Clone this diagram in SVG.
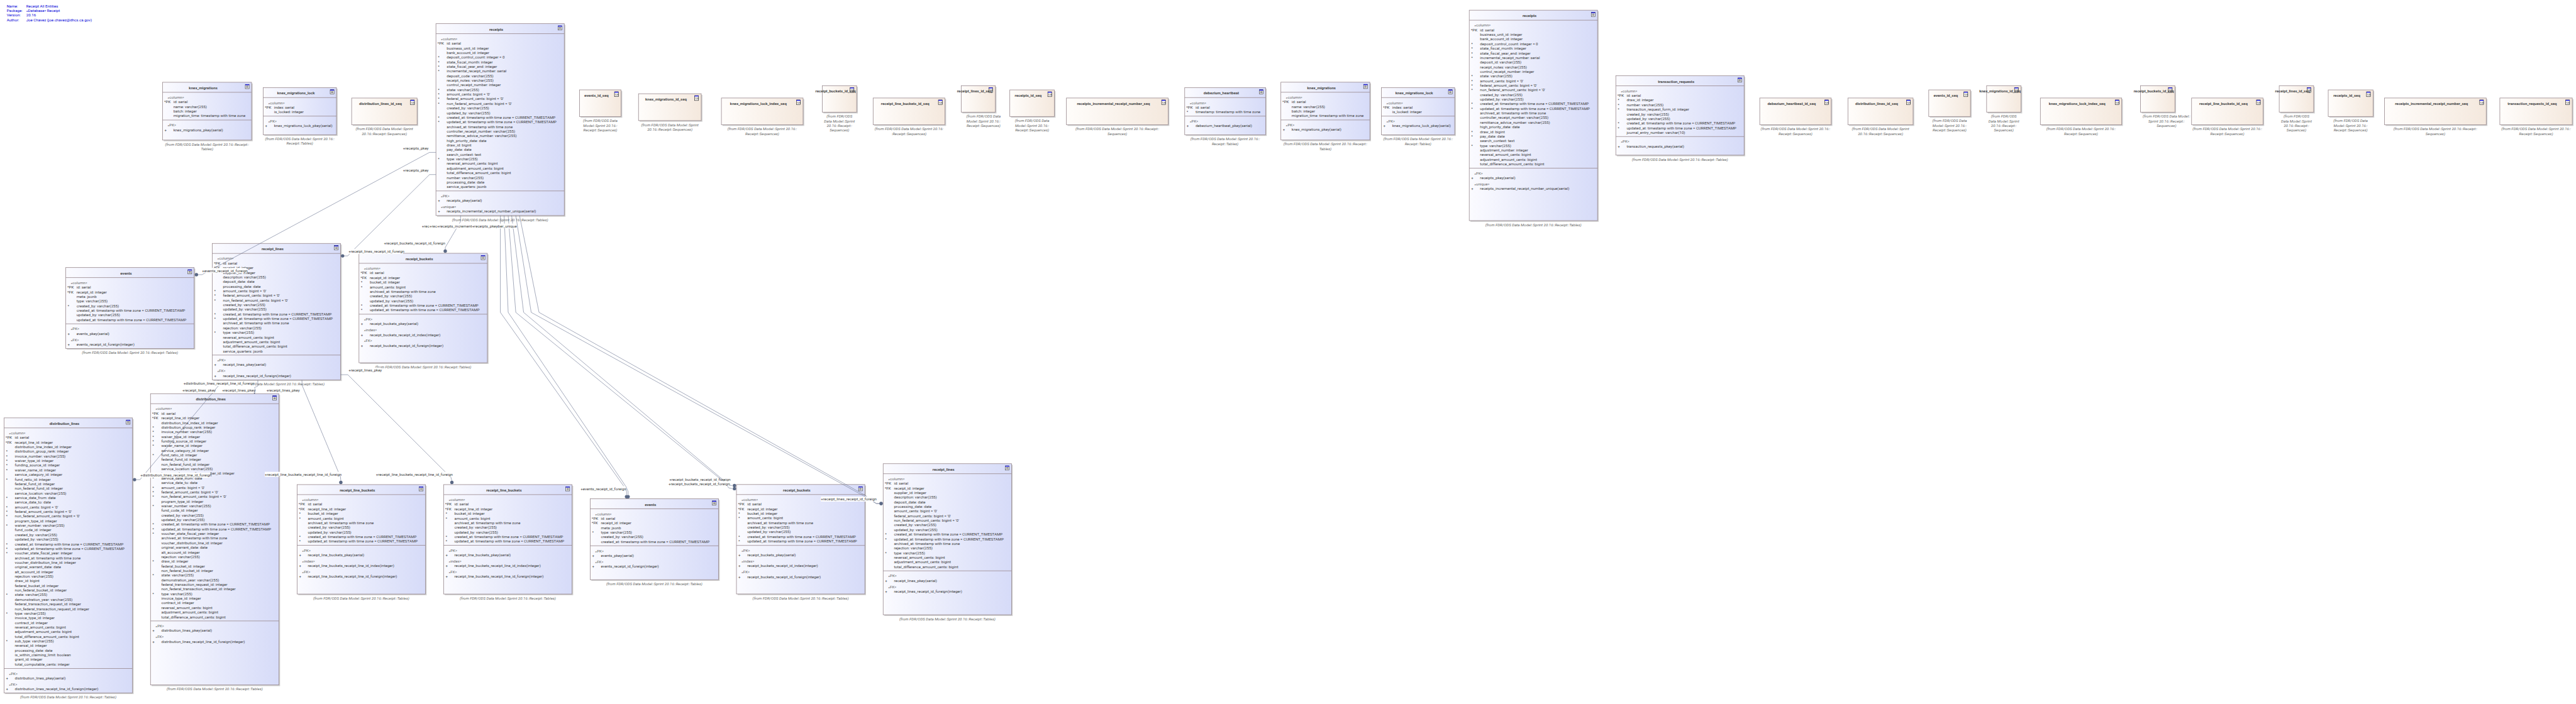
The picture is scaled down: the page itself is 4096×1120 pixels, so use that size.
<svg xmlns="http://www.w3.org/2000/svg" width="4096" height="1120" viewBox="0 0 4096 1120">
<style>
text{font-family:Roboto,"Liberation Sans",sans-serif;font-size:10px;fill:#3c3c3c}
.n{font-weight:700;text-anchor:middle;fill:#454545}
.s{fill:#666}
.c{font-style:italic;text-anchor:middle;fill:#666}
.h{fill:#0000d8}
.sh{fill:#cfcfcf}
.tb{fill:url(#gt);stroke:#97878c;stroke-width:1.3}
.sb{fill:url(#gs);stroke:#97878c;stroke-width:1.3}
.dv{fill:none;stroke:#97878c;stroke-width:1.3}
.ln{fill:none;stroke:#6b7590;stroke-width:1}
.ball{fill:#5a6885}
.lb{fill:#fff}
</style>
<defs>
<linearGradient id="gt"><stop offset="0" stop-color="#fbfbff"/><stop offset="1" stop-color="#d6dbf8"/></linearGradient>
<linearGradient id="gs"><stop offset="0" stop-color="#fffdfb"/><stop offset="1" stop-color="#f4e8dd"/></linearGradient>
<g id="ti"><rect x=".5" y=".5" width="10" height="11" fill="#fff" stroke="#333"/><rect x=".5" y=".5" width="10" height="2" fill="#0000e0"/><path d="M2.5 4.5h6M2.5 6.5h6M2.5 8.5h6" stroke="#333" fill="none"/></g>
<g id="si"><rect x=".5" y=".5" width="10" height="12.5" fill="#fff" stroke="#111"/><rect x=".5" y=".5" width="10" height="2" fill="#0000e0"/><text x="1.2" y="10" style="font-size:6.5px;fill:#111;letter-spacing:-.6px">123</text></g>
</defs>
<g transform="scale(0.61308)">
<rect width="6681" height="1827" fill="#fff"/>
<g id="header" class="h">
<text class="h" x="17.5" y="19.2">Name:</text><text class="h" x="68" y="19.2">Receipt All Entities</text>
<text class="h" x="17.5" y="31.1">Package:</text><text class="h" x="68" y="31.1">«Database» Receipt</text>
<text class="h" x="17.5" y="42.9">Version:</text><text class="h" x="68" y="42.9">20.16</text>
<text class="h" x="17.5" y="55.2">Author:</text><text class="h" x="68" y="55.2">Joe Chavez (joe.chavez@dhcs.ca.gov)</text>
</g>

<g id="knex_migrations_a" transform="translate(421.6,213.5)"><rect class="sh" x="3" y="3" width="230.8" height="150"/><rect class="tb" width="230.8" height="150"/><path class="dv" d="M0 26H230.8M0 98H230.8"/><use href="#ti" x="214.1" y="5"/><text class="n" x="105.4" y="18">knex_migrations</text>
<text class="s" x="13" y="42.7">«column»</text><g transform="translate(4,42.7)"><text y="12">*PK</text></g><g transform="translate(28,42.7)"><text y="12">id: serial</text><text y="24">name: varchar(255)</text><text y="36">batch: integer</text><text y="48">migration_time: timestamp with time zone</text></g>
<text class="s" x="13" y="114.7">«PK»</text><text x="5" y="126.7">+</text><text x="28" y="126.7">knex_migrations_pkey(serial)</text>
<text class="c" x="115.4" y="164.3">(from FDR/ODS Data Model::Sprint 20.16::Receipt::</text><text class="c" x="115.4" y="176.3">Tables)</text></g>

<g id="knex_migrations_lock_a" transform="translate(682.6,227.3)"><rect class="sh" x="3" y="3" width="190" height="122.3"/><rect class="tb" width="190" height="122.3"/><path class="dv" d="M0 26H190M0 74H190"/><use href="#ti" x="173.3" y="5"/><text class="n" x="85" y="18">knex_migrations_lock</text>
<text class="s" x="13" y="42.7">«column»</text><g transform="translate(4,42.7)"><text y="12">*PK</text></g><g transform="translate(28,42.7)"><text y="12">index: serial</text><text y="24">is_locked: integer</text></g>
<text class="s" x="13" y="90.7">«PK»</text><text x="5" y="102.7">+</text><text x="28" y="102.7">knex_migrations_lock_pkey(serial)</text>
<text class="c" x="95" y="136.6">(from FDR/ODS Data Model::Sprint 20.16::</text><text class="c" x="95" y="148.6">Receipt::Tables)</text></g>

<g id="distribution_lines_id_seq_a" transform="translate(912,254.4)"><rect class="sh" x="3" y="3" width="169.7" height="69.3"/><rect class="sb" width="169.7" height="69.3"/><use href="#si" x="152.2" y="4.5"/><text class="n" x="74.8" y="18">distribution_lines_id_seq</text>
<text class="c" x="84.8" y="83.6">(from FDR/ODS Data Model::Sprint</text><text class="c" x="84.8" y="95.6">20.16::Receipt::Sequences)</text></g>

<g id="receipts_a" transform="translate(1130.6,61.4)"><rect class="sh" x="3" y="3" width="332.9" height="497.9"/><rect class="tb" width="332.9" height="497.9"/><path class="dv" d="M0 26H332.9M0 434H332.9"/><use href="#ti" x="316.2" y="5"/><text class="n" x="156.4" y="18">receipts</text>
<text class="s" x="13" y="42.7">«column»</text>
<g transform="translate(5,42.7)"><text x="-1" y="12">*PK</text><text y="48">*</text><text y="60">*</text><text y="72">*</text><text y="84">*</text><text y="132">*</text><text y="144">*</text><text y="156">*</text><text y="168">*</text><text y="204">*</text><text y="216">*</text><text y="312">*</text></g>
<g transform="translate(28,42.7)"><text y="12">id: serial</text><text y="24">business_unit_id: integer</text><text y="36">bank_account_id: integer</text><text y="48">deposit_control_count: integer = 0</text><text y="60">state_fiscal_month: integer</text><text y="72">state_fiscal_year_end: integer</text><text y="84">incremental_receipt_number: serial</text><text y="96">deposit_code: varchar(255)</text><text y="108">receipt_notes: varchar(255)</text><text y="120">control_receipt_number: integer</text><text y="132">state: varchar(255)</text><text y="144">amount_cents: bigint = '0'</text><text y="156">federal_amount_cents: bigint = '0'</text><text y="168">non_federal_amount_cents: bigint = '0'</text><text y="180">created_by: varchar(255)</text><text y="192">updated_by: varchar(255)</text><text y="204">created_at: timestamp with time zone = CURRENT_TIMESTAMP</text><text y="216">updated_at: timestamp with time zone = CURRENT_TIMESTAMP</text><text y="228">archived_at: timestamp with time zone</text><text y="240">controller_receipt_number: varchar(255)</text><text y="252">remittance_advice_number: varchar(255)</text><text y="264">high_priority_date: date</text><text y="276">draw_id: bigint</text><text y="288">pay_date: date</text><text y="300">search_context: text</text><text y="312">type: varchar(255)</text><text y="324">reversal_amount_cents: bigint</text><text y="336">adjustment_amount_cents: bigint</text><text y="348">total_difference_amount_cents: bigint</text><text y="360">number: varchar(255)</text><text y="372">processing_date: date</text><text y="384">service_quarters: jsonb</text></g>
<text class="s" x="13" y="450.7">«PK»</text><text x="5" y="462.7">+</text><text x="28" y="462.7">receipts_pkey(serial)</text>
<text class="s" x="13" y="478.7">«unique»</text><text x="5" y="490.7">+</text><text x="28" y="490.7">receipts_incremental_receipt_number_unique(serial)</text>
<text class="c" x="166.4" y="512.2">(from FDR/ODS Data Model::Sprint 20.16::Receipt::Tables)</text></g>

<g id="events_id_seq_a" transform="translate(1503,233.2)"><rect class="sh" x="3" y="3" width="107.8" height="69.3"/><rect class="sb" width="107.8" height="69.3"/><use href="#si" x="90.3" y="4.5"/><text class="n" x="43.9" y="18">events_id_seq</text>
<text class="c" x="53.9" y="83.6">(from FDR/ODS Data</text><text class="c" x="53.9" y="95.6">Model::Sprint 20.16::</text><text class="c" x="53.9" y="107.6">Receipt::Sequences)</text></g>

<g id="knex_migrations_id_seq_a" transform="translate(1656,243.2)"><rect class="sh" x="3" y="3" width="162.7" height="69.7"/><rect class="sb" width="162.7" height="69.7"/><use href="#si" x="145.2" y="4.5"/><text class="n" x="71.3" y="18">knex_migrations_id_seq</text>
<text class="c" x="81.3" y="84">(from FDR/ODS Data Model::Sprint</text><text class="c" x="81.3" y="96">20.16::Receipt::Sequences)</text></g>

<g id="knex_migrations_lock_index_seq_a" transform="translate(1871,254.3)"><rect class="sh" x="3" y="3" width="211.8" height="69.4"/><rect class="sb" width="211.8" height="69.4"/><use href="#si" x="194.3" y="4.5"/><text class="n" x="95.9" y="18">knex_migrations_lock_index_seq</text>
<text class="c" x="105.9" y="83.7">(from FDR/ODS Data Model::Sprint 20.16::</text><text class="c" x="105.9" y="95.7">Receipt::Sequences)</text></g>

<g id="receipt_buckets_id_seq_a" transform="translate(2132.5,222.3)"><rect class="sh" x="3" y="3" width="89.3" height="69"/><rect class="sb" width="89.3" height="69"/><use href="#si" x="71.8" y="4.5"/><text class="n" x="34.6" y="18">receipt_buckets_id_seq</text>
<text class="c" x="44.6" y="83.4">(from FDR/ODS</text><text class="c" x="44.6" y="95.4">Data Model::Sprint</text><text class="c" x="44.6" y="107.4">20.16::Receipt::</text><text class="c" x="44.6" y="119.4">Sequences)</text></g>

<g id="receipt_line_buckets_id_seq_a" transform="translate(2264.5,254.3)"><rect class="sh" x="3" y="3" width="186.3" height="69.4"/><rect class="sb" width="186.3" height="69.4"/><use href="#si" x="168.8" y="4.5"/><text class="n" x="83.1" y="18">receipt_line_buckets_id_seq</text>
<text class="c" x="93.1" y="83.7">(from FDR/ODS Data Model::Sprint 20.16:</text><text class="c" x="93.1" y="95.7">:Receipt::Sequences)</text></g>

<g id="receipt_lines_id_seq_a" transform="translate(2492.9,222.3)"><rect class="sh" x="3" y="3" width="88.6" height="69"/><rect class="sb" width="88.6" height="69"/><use href="#si" x="71.1" y="4.5"/><text class="n" x="34.3" y="18">receipt_lines_id_seq</text>
<text class="c" x="58" y="83.4">(from FDR/ODS Data</text><text class="c" x="58" y="95.4">Model::Sprint 20.16::</text><text class="c" x="58" y="107.4">Receipt::Sequences)</text></g>

<g id="receipts_id_seq_a" transform="translate(2619,233.3)"><rect class="sh" x="3" y="3" width="115.6" height="69"/><rect class="sb" width="115.6" height="69"/><use href="#si" x="98.1" y="4.5"/><text class="n" x="47.8" y="18">receipts_id_seq</text>
<text class="c" x="57.8" y="83.4">(from FDR/ODS Data</text><text class="c" x="57.8" y="95.4">Model::Sprint 20.16::</text><text class="c" x="57.8" y="107.4">Receipt::Sequences)</text></g>

<g id="receipts_incremental_receipt_number_seq_a" transform="translate(2765.8,254.3)"><rect class="sh" x="3" y="3" width="264" height="69.4"/><rect class="sb" width="264" height="69.4"/><use href="#si" x="246.5" y="4.5"/><text class="n" x="122" y="18">receipts_incremental_receipt_number_seq</text>
<text class="c" x="132" y="83.7">(from FDR/ODS Data Model::Sprint 20.16::Receipt::</text><text class="c" x="132" y="95.7">Sequences)</text></g>

<g id="debezium_heartbeat" transform="translate(3072.6,227.3)"><rect class="sh" x="3" y="3" width="209.8" height="122.4"/><rect class="tb" width="209.8" height="122.4"/><path class="dv" d="M0 26H209.8M0 74H209.8"/><use href="#ti" x="193.1" y="5"/><text class="n" x="94.9" y="18">debezium_heartbeat</text>
<text class="s" x="13" y="42.7">«column»</text><g transform="translate(4,42.7)"><text y="12">*PK</text><text x="1" y="24">*</text></g><g transform="translate(28,42.7)"><text y="12">id: serial</text><text y="24">timestamp: timestamp with time zone</text></g>
<text class="s" x="13" y="90.7">«PK»</text><text x="5" y="102.7">+</text><text x="28" y="102.7">debezium_heartbeat_pkey(serial)</text>
<text class="c" x="104.9" y="136.7">(from FDR/ODS Data Model::Sprint 20.16::</text><text class="c" x="104.9" y="148.7">Receipt::Tables)</text></g>

<g id="knex_migrations_b" transform="translate(3322,213.3)"><rect class="sh" x="3" y="3" width="230.8" height="150"/><rect class="tb" width="230.8" height="150"/><path class="dv" d="M0 26H230.8M0 98H230.8"/><use href="#ti" x="214.1" y="5"/><text class="n" x="105.4" y="18">knex_migrations</text>
<text class="s" x="13" y="42.7">«column»</text><g transform="translate(4,42.7)"><text y="12">*PK</text></g><g transform="translate(28,42.7)"><text y="12">id: serial</text><text y="24">name: varchar(255)</text><text y="36">batch: integer</text><text y="48">migration_time: timestamp with time zone</text></g>
<text class="s" x="13" y="114.7">«PK»</text><text x="5" y="126.7">+</text><text x="28" y="126.7">knex_migrations_pkey(serial)</text>
<text class="c" x="115.4" y="164.3">(from FDR/ODS Data Model::Sprint 20.16::Receipt::</text><text class="c" x="115.4" y="176.3">Tables)</text></g>

<g id="knex_migrations_lock_b" transform="translate(3582.8,227.3)"><rect class="sh" x="3" y="3" width="190" height="122.4"/><rect class="tb" width="190" height="122.4"/><path class="dv" d="M0 26H190M0 74H190"/><use href="#ti" x="173.3" y="5"/><text class="n" x="85" y="18">knex_migrations_lock</text>
<text class="s" x="13" y="42.7">«column»</text><g transform="translate(4,42.7)"><text y="12">*PK</text></g><g transform="translate(28,42.7)"><text y="12">index: serial</text><text y="24">is_locked: integer</text></g>
<text class="s" x="13" y="90.7">«PK»</text><text x="5" y="102.7">+</text><text x="28" y="102.7">knex_migrations_lock_pkey(serial)</text>
<text class="c" x="95" y="136.7">(from FDR/ODS Data Model::Sprint 20.16::</text><text class="c" x="95" y="148.7">Receipt::Tables)</text></g>

<g id="receipts_b" transform="translate(3810.6,26.4)"><rect class="sh" x="3" y="3" width="332.7" height="546.1"/><rect class="tb" width="332.7" height="546.1"/><path class="dv" d="M0 26H332.7M0 410H332.7"/><use href="#ti" x="316" y="5"/><text class="n" x="156.4" y="18">receipts</text>
<text class="s" x="13" y="42.7">«column»</text>
<g transform="translate(5,42.7)"><text x="-1" y="12">*PK</text><text y="48">*</text><text y="60">*</text><text y="72">*</text><text y="84">*</text><text y="132">*</text><text y="144">*</text><text y="156">*</text><text y="168">*</text><text y="204">*</text><text y="216">*</text><text y="276">*</text><text y="288">*</text><text y="312">*</text></g>
<g transform="translate(28,42.7)"><text y="12">id: serial</text><text y="24">business_unit_id: integer</text><text y="36">bank_account_id: integer</text><text y="48">deposit_control_count: integer = 0</text><text y="60">state_fiscal_month: integer</text><text y="72">state_fiscal_year_end: integer</text><text y="84">incremental_receipt_number: serial</text><text y="96">deposit_id: varchar(255)</text><text y="108">receipt_notes: varchar(255)</text><text y="120">control_receipt_number: integer</text><text y="132">state: varchar(255)</text><text y="144">amount_cents: bigint = '0'</text><text y="156">federal_amount_cents: bigint = '0'</text><text y="168">non_federal_amount_cents: bigint = '0'</text><text y="180">created_by: varchar(255)</text><text y="192">updated_by: varchar(255)</text><text y="204">created_at: timestamp with time zone = CURRENT_TIMESTAMP</text><text y="216">updated_at: timestamp with time zone = CURRENT_TIMESTAMP</text><text y="228">archived_at: timestamp with time zone</text><text y="240">controller_receipt_number: varchar(255)</text><text y="252">remittance_advice_number: varchar(255)</text><text y="264">high_priority_date: date</text><text y="276">draw_id: bigint</text><text y="288">pay_date: date</text><text y="300">search_context: text</text><text y="312">type: varchar(255)</text><text y="324">adjustment_number: integer</text><text y="336">reversal_amount_cents: bigint</text><text y="348">adjustment_amount_cents: bigint</text><text y="360">total_difference_amount_cents: bigint</text></g>
<text class="s" x="13" y="426.7">«PK»</text><text x="5" y="438.7">+</text><text x="28" y="438.7">receipts_pkey(serial)</text>
<text class="s" x="13" y="454.7">«unique»</text><text x="5" y="466.7">+</text><text x="28" y="466.7">receipts_incremental_receipt_number_unique(serial)</text>
<text class="c" x="166.4" y="560.5">(from FDR/ODS Data Model::Sprint 20.16::Receipt::Tables)</text></g>

<g id="transaction_requests" transform="translate(4190.7,196.7)"><rect class="sh" x="3" y="3" width="332.7" height="205.9"/><rect class="tb" width="332.7" height="205.9"/><path class="dv" d="M0 26H332.7M0 157.7H332.7"/><use href="#ti" x="316" y="5"/><text class="n" x="156.4" y="18">transaction_requests</text>
<text class="s" x="13" y="42.7">«column»</text>
<g transform="translate(5,42.7)"><text x="-1" y="12">*PK</text><text y="24">*</text><text y="36">*</text><text y="48">*</text><text y="84">*</text><text y="96">*</text></g>
<g transform="translate(28,42.7)"><text y="12">id: serial</text><text y="24">draw_id: integer</text><text y="36">number: varchar(255)</text><text y="48">transaction_request_form_id: integer</text><text y="60">created_by: varchar(255)</text><text y="72">updated_by: varchar(255)</text><text y="84">created_at: timestamp with time zone = CURRENT_TIMESTAMP</text><text y="96">updated_at: timestamp with time zone = CURRENT_TIMESTAMP</text><text y="108">journal_entry_number: varchar(10)</text></g>
<text class="s" x="13" y="174.4">«PK»</text><text x="5" y="186.4">+</text><text x="28" y="186.4">transaction_requests_pkey(serial)</text>
<text class="c" x="166.4" y="220.2">(from FDR/ODS Data Model::Sprint 20.16::Receipt::Tables)</text></g>

<g id="debezium_heartbeat_id_seq" transform="translate(4564,254.3)"><rect class="sh" x="3" y="3" width="185.4" height="69.4"/><rect class="sb" width="185.4" height="69.4"/><use href="#si" x="167.9" y="4.5"/><text class="n" x="82.7" y="18">debezium_heartbeat_id_seq</text>
<text class="c" x="92.7" y="83.7">(from FDR/ODS Data Model::Sprint 20.16::</text><text class="c" x="92.7" y="95.7">Receipt::Sequences)</text></g>

<g id="distribution_lines_id_seq_b" transform="translate(4792.7,254.3)"><rect class="sh" x="3" y="3" width="169" height="69.4"/><rect class="sb" width="169" height="69.4"/><use href="#si" x="151.5" y="4.5"/><text class="n" x="74.5" y="18">distribution_lines_id_seq</text>
<text class="c" x="84.5" y="83.7">(from FDR/ODS Data Model::Sprint</text><text class="c" x="84.5" y="95.7">20.16::Receipt::Sequences)</text></g>

<g id="events_id_seq_b" transform="translate(5002.3,233.3)"><rect class="sh" x="3" y="3" width="108.2" height="69"/><rect class="sb" width="108.2" height="69"/><use href="#si" x="90.7" y="4.5"/><text class="n" x="44.1" y="18">events_id_seq</text>
<text class="c" x="54.1" y="83.4">(from FDR/ODS Data</text><text class="c" x="54.1" y="95.4">Model::Sprint 20.16::</text><text class="c" x="54.1" y="107.4">Receipt::Sequences)</text></g>

<g id="knex_migrations_id_seq_b" transform="translate(5152.4,222.3)"><rect class="sh" x="3" y="3" width="89.3" height="69"/><rect class="sb" width="89.3" height="69"/><use href="#si" x="71.8" y="4.5"/><text class="n" x="34.6" y="18">knex_migrations_id_seq</text>
<text class="c" x="44.6" y="83.4">(from FDR/ODS</text><text class="c" x="44.6" y="95.4">Data Model::Sprint</text><text class="c" x="44.6" y="107.4">20.16::Receipt::</text><text class="c" x="44.6" y="119.4">Sequences)</text></g>

<g id="knex_migrations_lock_index_seq_b" transform="translate(5291.8,254.3)"><rect class="sh" x="3" y="3" width="211" height="69.4"/><rect class="sb" width="211" height="69.4"/><use href="#si" x="193.5" y="4.5"/><text class="n" x="95.5" y="18">knex_migrations_lock_index_seq</text>
<text class="c" x="105.5" y="83.7">(from FDR/ODS Data Model::Sprint 20.16::</text><text class="c" x="105.5" y="95.7">Receipt::Sequences)</text></g>

<g id="receipt_buckets_id_seq_b" transform="translate(5551.5,222.3)"><rect class="sh" x="3" y="3" width="89.2" height="69"/><rect class="sb" width="89.2" height="69"/><use href="#si" x="71.7" y="4.5"/><text class="n" x="34.6" y="18">receipt_buckets_id_seq</text>
<text class="c" x="67.5" y="83.4">(from FDR/ODS Data Model::</text><text class="c" x="67.5" y="95.4">Sprint 20.16::Receipt::</text><text class="c" x="67.5" y="107.4">Sequences)</text></g>

<g id="receipt_line_buckets_id_seq_b" transform="translate(5684,254.3)"><rect class="sh" x="3" y="3" width="185.3" height="69.4"/><rect class="sb" width="185.3" height="69.4"/><use href="#si" x="167.8" y="4.5"/><text class="n" x="82.7" y="18">receipt_line_buckets_id_seq</text>
<text class="c" x="92.7" y="83.7">(from FDR/ODS Data Model::Sprint 20.16::</text><text class="c" x="92.7" y="95.7">Receipt::Sequences)</text></g>

<g id="receipt_lines_id_seq_b" transform="translate(5911.3,222.3)"><rect class="sh" x="3" y="3" width="89.3" height="69"/><rect class="sb" width="89.3" height="69"/><use href="#si" x="71.8" y="4.5"/><text class="n" x="34.6" y="18">receipt_lines_id_seq</text>
<text class="c" x="44.6" y="83.4">(from FDR/ODS</text><text class="c" x="44.6" y="95.4">Data Model::Sprint</text><text class="c" x="44.6" y="107.4">20.16::Receipt::</text><text class="c" x="44.6" y="119.4">Sequences)</text></g>

<g id="receipts_id_seq_b" transform="translate(6038.4,233.3)"><rect class="sh" x="3" y="3" width="116.3" height="69"/><rect class="sb" width="116.3" height="69"/><use href="#si" x="98.8" y="4.5"/><text class="n" x="48.1" y="18">receipts_id_seq</text>
<text class="c" x="58.1" y="83.4">(from FDR/ODS Data</text><text class="c" x="58.1" y="95.4">Model::Sprint 20.16::</text><text class="c" x="58.1" y="107.4">Receipt::Sequences)</text></g>

<g id="receipts_incremental_receipt_number_seq_b" transform="translate(6184.5,254.3)"><rect class="sh" x="3" y="3" width="263.7" height="69.4"/><rect class="sb" width="263.7" height="69.4"/><use href="#si" x="246.2" y="4.5"/><text class="n" x="121.8" y="18">receipts_incremental_receipt_number_seq</text>
<text class="c" x="131.8" y="83.7">(from FDR/ODS Data Model::Sprint 20.16::Receipt::</text><text class="c" x="131.8" y="95.7">Sequences)</text></g>

<g id="transaction_requests_id_seq" transform="translate(6483.5,254.3)"><rect class="sh" x="3" y="3" width="187.9" height="69.4"/><rect class="sb" width="187.9" height="69.4"/><use href="#si" x="170.4" y="4.5"/><text class="n" x="84" y="18">transaction_requests_id_seq</text>
<text class="c" x="94" y="83.7">(from FDR/ODS Data Model::Sprint 20.16::</text><text class="c" x="94" y="95.7">Receipt::Sequences)</text></g>

<g id="events_a" transform="translate(170.5,694.3)"><rect class="sh" x="3" y="3" width="333" height="210"/><rect class="tb" width="333" height="210"/><path class="dv" d="M0 26H333M0 146H333"/><use href="#ti" x="316.3" y="5"/><text class="n" x="156.5" y="18">events</text>
<text class="s" x="13" y="42.7">«column»</text>
<g transform="translate(4,42.7)"><text y="12">*PK</text><text y="24">*FK</text><text x="1" y="60">*</text></g>
<g transform="translate(28,42.7)"><text y="12">id: serial</text><text y="24">receipt_id: integer</text><text y="36">meta: jsonb</text><text y="48">type: varchar(255)</text><text y="60">created_by: varchar(255)</text><text y="72">created_at: timestamp with time zone = CURRENT_TIMESTAMP</text><text y="84">updated_by: varchar(255)</text><text y="96">updated_at: timestamp with time zone = CURRENT_TIMESTAMP</text></g>
<text class="s" x="13" y="162.7">«PK»</text><text x="5" y="174.7">+</text><text x="28" y="174.7">events_pkey(serial)</text>
<text class="s" x="13" y="190.7">«FK»</text><text x="5" y="202.7">+</text><text x="28" y="202.7">events_receipt_id_foreign(integer)</text>
<text class="c" x="166.5" y="224.7">(from FDR/ODS Data Model::Sprint 20.16::Receipt::Tables)</text></g>

<g id="receipt_lines_a" transform="translate(550.4,631.7)"><rect class="sh" x="3" y="3" width="333" height="354"/><rect class="tb" width="333" height="354"/><path class="dv" d="M0 26H333M0 289.6H333"/><use href="#ti" x="316.3" y="5"/><text class="n" x="156.5" y="18">receipt_lines</text>
<text class="s" x="13" y="42.7">«column»</text>
<g transform="translate(4,42.7)"><text y="12">*PK</text><text y="24">*FK</text><text x="1" y="84">*</text><text x="1" y="96">*</text><text x="1" y="108">*</text><text x="1" y="144">*</text><text x="1" y="156">*</text><text x="1" y="192">*</text></g>
<g transform="translate(28,42.7)"><text y="12">id: serial</text><text y="24">receipt_id: integer</text><text y="36">supplier_id: integer</text><text y="48">description: varchar(255)</text><text y="60">deposit_date: date</text><text y="72">processing_date: date</text><text y="84">amount_cents: bigint = '0'</text><text y="96">federal_amount_cents: bigint = '0'</text><text y="108">non_federal_amount_cents: bigint = '0'</text><text y="120">created_by: varchar(255)</text><text y="132">updated_by: varchar(255)</text><text y="144">created_at: timestamp with time zone = CURRENT_TIMESTAMP</text><text y="156">updated_at: timestamp with time zone = CURRENT_TIMESTAMP</text><text y="168">archived_at: timestamp with time zone</text><text y="180">rejection: varchar(255)</text><text y="192">type: varchar(255)</text><text y="204">reversal_amount_cents: bigint</text><text y="216">adjustment_amount_cents: bigint</text><text y="228">total_difference_amount_cents: bigint</text><text y="240">service_quarters: jsonb</text></g>
<text class="s" x="13" y="306.3">«PK»</text><text x="5" y="318.3">+</text><text x="28" y="318.3">receipt_lines_pkey(serial)</text>
<text class="s" x="13" y="334.3">«FK»</text><text x="5" y="346.3">+</text><text x="28" y="346.3">receipt_lines_receipt_id_foreign(integer)</text>
<text class="c" x="166.5" y="368.3">(from FDR/ODS Data Model::Sprint 20.16::Receipt::Tables)</text></g>

<g id="receipt_buckets_a" transform="translate(931,657.3)"><rect class="sh" x="3" y="3" width="333" height="284"/><rect class="tb" width="333" height="284"/><path class="dv" d="M0 26H333M0 158H333"/><use href="#ti" x="316.3" y="5"/><text class="n" x="156.5" y="18">receipt_buckets</text>
<text class="s" x="13" y="42.7">«column»</text>
<g transform="translate(4,42.7)"><text y="12">*PK</text><text y="24">*FK</text><text x="1" y="36">*</text><text x="1" y="48">*</text><text x="1" y="96">*</text><text x="1" y="108">*</text></g>
<g transform="translate(28,42.7)"><text y="12">id: serial</text><text y="24">receipt_id: integer</text><text y="36">bucket_id: integer</text><text y="48">amount_cents: bigint</text><text y="60">archived_at: timestamp with time zone</text><text y="72">created_by: varchar(255)</text><text y="84">updated_by: varchar(255)</text><text y="96">created_at: timestamp with time zone = CURRENT_TIMESTAMP</text><text y="108">updated_at: timestamp with time zone = CURRENT_TIMESTAMP</text></g>
<text class="s" x="13" y="174.7">«PK»</text><text x="5" y="186.7">+</text><text x="28" y="186.7">receipt_buckets_pkey(serial)</text>
<text class="s" x="13" y="202.7">«index»</text><text x="5" y="214.7">+</text><text x="28" y="214.7">receipt_buckets_receipt_id_index(integer)</text>
<text class="s" x="13" y="230.7">«FK»</text><text x="5" y="242.7">+</text><text x="28" y="242.7">receipt_buckets_receipt_id_foreign(integer)</text>
<text class="c" x="166.5" y="298.3">(from FDR/ODS Data Model::Sprint 20.16::Receipt::Tables)</text></g>

<g id="distribution_lines_a" transform="translate(10.4,1084.4)"><rect class="sh" x="3" y="3" width="333.2" height="713.6"/><rect class="tb" width="333.2" height="713.6"/><path class="dv" d="M0 26H333.2M0 650.3H333.2"/><use href="#ti" x="316.5" y="5"/><text class="n" x="156.6" y="18">distribution_lines</text>
<text class="s" x="13" y="42.7">«column»</text>
<g transform="translate(4,42.7)"><text y="12">*PK</text><text y="24">*FK</text><text x="1" y="48">*</text><text x="1" y="60">*</text><text x="1" y="72">*</text><text x="1" y="84">*</text><text x="1" y="96">*</text><text x="1" y="120">*</text><text x="1" y="168">*</text><text x="1" y="192">*</text><text x="1" y="204">*</text><text x="1" y="216">*</text><text x="1" y="240">*</text><text x="1" y="288">*</text><text x="1" y="300">*</text><text x="1" y="312">*</text><text x="1" y="420">*</text><text x="1" y="468">*</text><text x="1" y="540">*</text></g>
<g transform="translate(28,42.7)"><text y="12">id: serial</text><text y="24">receipt_line_id: integer</text><text y="36">distribution_line_index_id: integer</text><text y="48">distribution_group_rank: integer</text><text y="60">invoice_number: varchar(255)</text><text y="72">waiver_type_id: integer</text><text y="84">funding_source_id: integer</text><text y="96">waiver_name_id: integer</text><text y="108">service_category_id: integer</text><text y="120">fund_ratio_id: integer</text><text y="132">federal_fund_id: integer</text><text y="144">non_federal_fund_id: integer</text><text y="156">service_location: varchar(255)</text><text y="168">service_date_from: date</text><text y="180">service_date_to: date</text><text y="192">amount_cents: bigint = '0'</text><text y="204">federal_amount_cents: bigint = '0'</text><text y="216">non_federal_amount_cents: bigint = '0'</text><text y="228">program_type_id: integer</text><text y="240">waiver_number: varchar(255)</text><text y="252">fund_code_id: integer</text><text y="264">created_by: varchar(255)</text><text y="276">updated_by: varchar(255)</text><text y="288">created_at: timestamp with time zone = CURRENT_TIMESTAMP</text><text y="300">updated_at: timestamp with time zone = CURRENT_TIMESTAMP</text><text y="312">voucher_state_fiscal_year: integer</text><text y="324">archived_at: timestamp with time zone</text><text y="336">voucher_distribution_line_id: integer</text><text y="348">original_warrant_date: date</text><text y="360">alt_account_id: integer</text><text y="372">rejection: varchar(255)</text><text y="384">draw_id: bigint</text><text y="396">federal_bucket_id: integer</text><text y="408">non_federal_bucket_id: integer</text><text y="420">state: varchar(255)</text><text y="432">demonstration_year: varchar(255)</text><text y="444">federal_transaction_request_id: integer</text><text y="456">non_federal_transaction_request_id: integer</text><text y="468">type: varchar(255)</text><text y="480">invoice_type_id: integer</text><text y="492">contract_id: integer</text><text y="504">reversal_amount_cents: bigint</text><text y="516">adjustment_amount_cents: bigint</text><text y="528">total_difference_amount_cents: bigint</text><text y="540">sub_type: varchar(255)</text><text y="552">reversal_id: integer</text><text y="564">processing_date: date</text><text y="576">is_within_claiming_limit: boolean</text><text y="588">grant_id: integer</text><text y="600">total_computable_cents: integer</text></g>
<text class="s" x="13" y="667">«PK»</text><text x="5" y="679">+</text><text x="28" y="679">distribution_lines_pkey(serial)</text>
<text class="s" x="13" y="695">«FK»</text><text x="5" y="707">+</text><text x="28" y="707">distribution_lines_receipt_line_id_foreign(integer)</text>
<text class="c" x="166.6" y="728">(from FDR/ODS Data Model::Sprint 20.16::Receipt::Tables)</text></g>

<g id="distribution_lines_b" transform="translate(390.3,1021.6)"><rect class="sh" x="3" y="3" width="333.1" height="755.8"/><rect class="tb" width="333.1" height="755.8"/><path class="dv" d="M0 26H333.1M0 589.7H333.1"/><use href="#ti" x="316.4" y="5"/><text class="n" x="156.5" y="18">distribution_lines</text>
<text class="s" x="13" y="42.7">«column»</text>
<g transform="translate(4,42.7)"><text y="12">*PK</text><text y="24">*FK</text><text x="1" y="48">*</text><text x="1" y="60">*</text><text x="1" y="72">*</text><text x="1" y="84">*</text><text x="1" y="96">*</text><text x="1" y="120">*</text><text x="1" y="180">*</text><text x="1" y="204">*</text><text x="1" y="216">*</text><text x="1" y="228">*</text><text x="1" y="252">*</text><text x="1" y="300">*</text><text x="1" y="312">*</text><text x="1" y="324">*</text><text x="1" y="396">*</text><text x="1" y="432">*</text><text x="1" y="480">*</text></g>
<g transform="translate(28,42.7)"><text y="12">id: serial</text><text y="24">receipt_line_id: integer</text><text y="36">distribution_line_index_id: integer</text><text y="48">distribution_group_rank: integer</text><text y="60">invoice_number: varchar(255)</text><text y="72">waiver_type_id: integer</text><text y="84">funding_source_id: integer</text><text y="96">waiver_name_id: integer</text><text y="108">service_category_id: integer</text><text y="120">fund_ratio_id: integer</text><text y="132">federal_fund_id: integer</text><text y="144">non_federal_fund_id: integer</text><text y="156">service_location: varchar(255)</text><text y="168">increase_decrease_line_number_id: integer</text><text y="180">service_date_from: date</text><text y="192">service_date_to: date</text><text y="204">amount_cents: bigint = '0'</text><text y="216">federal_amount_cents: bigint = '0'</text><text y="228">non_federal_amount_cents: bigint = '0'</text><text y="240">program_type_id: integer</text><text y="252">waiver_number: varchar(255)</text><text y="264">fund_code_id: integer</text><text y="276">created_by: varchar(255)</text><text y="288">updated_by: varchar(255)</text><text y="300">created_at: timestamp with time zone = CURRENT_TIMESTAMP</text><text y="312">updated_at: timestamp with time zone = CURRENT_TIMESTAMP</text><text y="324">voucher_state_fiscal_year: integer</text><text y="336">archived_at: timestamp with time zone</text><text y="348">voucher_distribution_line_id: integer</text><text y="360">original_warrant_date: date</text><text y="372">alt_account_id: integer</text><text y="384">rejection: varchar(255)</text><text y="396">draw_id: integer</text><text y="408">federal_bucket_id: integer</text><text y="420">non_federal_bucket_id: integer</text><text y="432">state: varchar(255)</text><text y="444">demonstration_year: varchar(255)</text><text y="456">federal_transaction_request_id: integer</text><text y="468">non_federal_transaction_request_id: integer</text><text y="480">type: varchar(255)</text><text y="492">invoice_type_id: integer</text><text y="504">contract_id: integer</text><text y="516">reversal_amount_cents: bigint</text><text y="528">adjustment_amount_cents: bigint</text><text y="540">total_difference_amount_cents: bigint</text></g>
<text class="s" x="13" y="606.4">«PK»</text><text x="5" y="618.4">+</text><text x="28" y="618.4">distribution_lines_pkey(serial)</text>
<text class="s" x="13" y="634.4">«FK»</text><text x="5" y="646.4">+</text><text x="28" y="646.4">distribution_lines_receipt_line_id_foreign(integer)</text>
<text class="c" x="166.5" y="770">(from FDR/ODS Data Model::Sprint 20.16::Receipt::Tables)</text></g>

<g id="receipt_line_buckets_a" transform="translate(770.5,1257.5)"><rect class="sh" x="3" y="3" width="333" height="284"/><rect class="tb" width="333" height="284"/><path class="dv" d="M0 26H333M0 157.5H333"/><use href="#ti" x="316.3" y="5"/><text class="n" x="156.5" y="18">receipt_line_buckets</text>
<text class="s" x="13" y="42.7">«column»</text>
<g transform="translate(4,42.7)"><text y="12">*PK</text><text y="24">*FK</text><text x="1" y="36">*</text><text x="1" y="48">*</text><text x="1" y="96">*</text><text x="1" y="108">*</text></g>
<g transform="translate(28,42.7)"><text y="12">id: serial</text><text y="24">receipt_line_id: integer</text><text y="36">bucket_id: integer</text><text y="48">amount_cents: bigint</text><text y="60">archived_at: timestamp with time zone</text><text y="72">created_by: varchar(255)</text><text y="84">updated_by: varchar(255)</text><text y="96">created_at: timestamp with time zone = CURRENT_TIMESTAMP</text><text y="108">updated_at: timestamp with time zone = CURRENT_TIMESTAMP</text></g>
<text class="s" x="13" y="174.2">«PK»</text><text x="5" y="186.2">+</text><text x="28" y="186.2">receipt_line_buckets_pkey(serial)</text>
<text class="s" x="13" y="202.2">«index»</text><text x="5" y="214.2">+</text><text x="28" y="214.2">receipt_line_buckets_receipt_line_id_index(integer)</text>
<text class="s" x="13" y="230.2">«FK»</text><text x="5" y="242.2">+</text><text x="28" y="242.2">receipt_line_buckets_receipt_line_id_foreign(integer)</text>
<text class="c" x="166.5" y="298.3">(from FDR/ODS Data Model::Sprint 20.16::Receipt::Tables)</text></g>

<g id="receipt_line_buckets_b" transform="translate(1150.6,1257.5)"><rect class="sh" x="3" y="3" width="333" height="284"/><rect class="tb" width="333" height="284"/><path class="dv" d="M0 26H333M0 157.5H333"/><use href="#ti" x="316.3" y="5"/><text class="n" x="156.5" y="18">receipt_line_buckets</text>
<text class="s" x="13" y="42.7">«column»</text>
<g transform="translate(4,42.7)"><text y="12">*PK</text><text y="24">*FK</text><text x="1" y="36">*</text><text x="1" y="48">*</text><text x="1" y="96">*</text><text x="1" y="108">*</text></g>
<g transform="translate(28,42.7)"><text y="12">id: serial</text><text y="24">receipt_line_id: integer</text><text y="36">bucket_id: integer</text><text y="48">amount_cents: bigint</text><text y="60">archived_at: timestamp with time zone</text><text y="72">created_by: varchar(255)</text><text y="84">updated_by: varchar(255)</text><text y="96">created_at: timestamp with time zone = CURRENT_TIMESTAMP</text><text y="108">updated_at: timestamp with time zone = CURRENT_TIMESTAMP</text></g>
<text class="s" x="13" y="174.2">«PK»</text><text x="5" y="186.2">+</text><text x="28" y="186.2">receipt_line_buckets_pkey(serial)</text>
<text class="s" x="13" y="202.2">«index»</text><text x="5" y="214.2">+</text><text x="28" y="214.2">receipt_line_buckets_receipt_line_id_index(integer)</text>
<text class="s" x="13" y="230.2">«FK»</text><text x="5" y="242.2">+</text><text x="28" y="242.2">receipt_line_buckets_receipt_line_id_foreign(integer)</text>
<text class="c" x="166.5" y="298.3">(from FDR/ODS Data Model::Sprint 20.16::Receipt::Tables)</text></g>

<g id="events_b" transform="translate(1530.6,1294.3)"><rect class="sh" x="3" y="3" width="333" height="210"/><rect class="tb" width="333" height="210"/><path class="dv" d="M0 26H333M0 122H333"/><use href="#ti" x="316.3" y="5"/><text class="n" x="156.5" y="18">events</text>
<text class="s" x="13" y="42.7">«column»</text>
<g transform="translate(4,42.7)"><text y="12">*PK</text><text y="24">*FK</text><text x="1" y="48">*</text></g>
<g transform="translate(28,42.7)"><text y="12">id: serial</text><text y="24">receipt_id: integer</text><text y="36">meta: jsonb</text><text y="48">type: varchar(255)</text><text y="60">created_by: varchar(255)</text><text y="72">created_at: timestamp with time zone = CURRENT_TIMESTAMP</text></g>
<text class="s" x="13" y="138.7">«PK»</text><text x="5" y="150.7">+</text><text x="28" y="150.7">events_pkey(serial)</text>
<text class="s" x="13" y="166.7">«FK»</text><text x="5" y="178.7">+</text><text x="28" y="178.7">events_receipt_id_foreign(integer)</text>
<text class="c" x="166.5" y="224.7">(from FDR/ODS Data Model::Sprint 20.16::Receipt::Tables)</text></g>

<g id="receipt_buckets_b" transform="translate(1910,1257.3)"><rect class="sh" x="3" y="3" width="333" height="284"/><rect class="tb" width="333" height="284"/><path class="dv" d="M0 26H333M0 158H333"/><use href="#ti" x="316.3" y="5"/><text class="n" x="156.5" y="18">receipt_buckets</text>
<text class="s" x="13" y="42.7">«column»</text>
<g transform="translate(4,42.7)"><text y="12">*PK</text><text y="24">*FK</text><text x="1" y="36">*</text><text x="1" y="48">*</text><text x="1" y="96">*</text><text x="1" y="108">*</text></g>
<g transform="translate(28,42.7)"><text y="12">id: serial</text><text y="24">receipt_id: integer</text><text y="36">bucket_id: integer</text><text y="48">amount_cents: bigint</text><text y="60">archived_at: timestamp with time zone</text><text y="72">created_by: varchar(255)</text><text y="84">updated_by: varchar(255)</text><text y="96">created_at: timestamp with time zone = CURRENT_TIMESTAMP</text><text y="108">updated_at: timestamp with time zone = CURRENT_TIMESTAMP</text></g>
<text class="s" x="13" y="174.7">«PK»</text><text x="5" y="186.7">+</text><text x="28" y="186.7">receipt_buckets_pkey(serial)</text>
<text class="s" x="13" y="202.7">«index»</text><text x="5" y="214.7">+</text><text x="28" y="214.7">receipt_buckets_receipt_id_index(integer)</text>
<text class="s" x="13" y="230.7">«FK»</text><text x="5" y="242.7">+</text><text x="28" y="242.7">receipt_buckets_receipt_id_foreign(integer)</text>
<text class="c" x="166.5" y="298.7">(from FDR/ODS Data Model::Sprint 20.16::Receipt::Tables)</text></g>

<g id="receipt_lines_b" transform="translate(2290.5,1203.3)"><rect class="sh" x="3" y="3" width="333" height="392"/><rect class="tb" width="333" height="392"/><path class="dv" d="M0 26H333M0 278H333"/><use href="#ti" x="316.3" y="5"/><text class="n" x="156.5" y="18">receipt_lines</text>
<text class="s" x="13" y="42.7">«column»</text>
<g transform="translate(4,42.7)"><text y="12">*PK</text><text y="24">*FK</text><text x="1" y="144">*</text><text x="1" y="156">*</text><text x="1" y="192">*</text></g>
<g transform="translate(28,42.7)"><text y="12">id: serial</text><text y="24">receipt_id: integer</text><text y="36">supplier_id: integer</text><text y="48">description: varchar(255)</text><text y="60">deposit_date: date</text><text y="72">processing_date: date</text><text y="84">amount_cents: bigint = '0'</text><text y="96">federal_amount_cents: bigint = '0'</text><text y="108">non_federal_amount_cents: bigint = '0'</text><text y="120">created_by: varchar(255)</text><text y="132">updated_by: varchar(255)</text><text y="144">created_at: timestamp with time zone = CURRENT_TIMESTAMP</text><text y="156">updated_at: timestamp with time zone = CURRENT_TIMESTAMP</text><text y="168">archived_at: timestamp with time zone</text><text y="180">rejection: varchar(255)</text><text y="192">type: varchar(255)</text><text y="204">reversal_amount_cents: bigint</text><text y="216">adjustment_amount_cents: bigint</text><text y="228">total_difference_amount_cents: bigint</text></g>
<text class="s" x="13" y="294.7">«PK»</text><text x="5" y="306.7">+</text><text x="28" y="306.7">receipt_lines_pkey(serial)</text>
<text class="s" x="13" y="322.7">«FK»</text><text x="5" y="334.7">+</text><text x="28" y="334.7">receipt_lines_receipt_id_foreign(integer)</text>
<text class="c" x="166.5" y="406.3">(from FDR/ODS Data Model::Sprint 20.16::Receipt::Tables)</text></g>

<g id="connectors">
<g class="ln">
<path d="M1130.6 395.4H1114L524 712.7H513"/>
<path d="M1130.6 453H1114L918.6 646.7L902 664H892"/>
<path d="M1194.4 559.3V575L1155 641.7V648"/>
<path d="M1297.7 559.3V810.6L1618 1262L1625 1275V1284"/>
<path d="M1307.5 559.3L1318 810.6L1623 1262L1629 1275V1284"/>
<path d="M1318 559.3L1337.7 810.6L1871 1245L1890 1259L1899 1260"/>
<path d="M1327 559.3L1358 810.6L1875 1245L1890 1266L1899 1268"/>
<path d="M1337.7 559.3L1377.7 810.6L2242 1288L2265 1301.7L2273 1306.7H2281"/>
<path d="M1347.5 559.3L1398 810.6L2245 1286L2265 1301.7L2273 1306.7H2281"/>
<path d="M565.7 985.7L566 1001.7L363 1244.7H354"/>
<path d="M668.7 985.7V1001.7L660 1005.7L662.3 1014L660 1020"/>
<path d="M783 985.7L783.6 1000L878 1225.8L883 1237L884 1248"/>
<path d="M883.4 972.3H902L1156 1225.8L1169 1237L1172 1248"/>
</g>
<circle class="ball" cx="509.4" cy="712.7" r="4.4"/>
<circle class="ball" cx="888.6" cy="664" r="4.4"/>
<circle class="ball" cx="1154.8" cy="651.7" r="4.4"/>
<circle class="ball" cx="1625" cy="1289" r="4.4"/>
<circle class="ball" cx="1629" cy="1289" r="4.4"/>
<circle class="ball" cx="1904.8" cy="1260" r="4.4"/>
<circle class="ball" cx="1904.8" cy="1268" r="4.4"/>
<circle class="ball" cx="2285.2" cy="1306.7" r="4.6"/>
<circle class="ball" cx="349" cy="1244.7" r="4.4"/>
<circle class="ball" cx="660" cy="1020.3" r="1.6"/>
<circle class="ball" cx="884" cy="1251.8" r="4.4"/>
<circle class="ball" cx="1172" cy="1251.8" r="4.4"/>
<g id="labels">
<rect class="lb" x="1045.3" y="378" width="66" height="12.5"/><text x="1045.3" y="387.8">+receipts_pkey</text>
<rect class="lb" x="1045.3" y="436" width="66" height="12.5"/><text x="1045.3" y="446">+receipts_pkey</text>
<rect class="lb" x="1094" y="580" width="66" height="13"/><text x="1094" y="590.3">+receipts_pkey</text>
<rect class="lb" x="1114" y="580" width="66" height="13"/><text x="1114" y="590.3">+receipts_pkey</text>
<rect class="lb" x="1134" y="580" width="205" height="13"/><text x="1134" y="590.3">+receipts_incremental_receipt_number_unique</text>
<rect class="lb" x="1224.4" y="580" width="66" height="13"/><text x="1224.4" y="590.3">+receipts_pkey</text>
<rect class="lb" x="995.6" y="624.5" width="155" height="13"/><text x="995.6" y="634.5">+receipt_buckets_receipt_id_foreign</text>
<rect class="lb" x="904" y="646.2" width="141" height="13"/><text x="904" y="656.2">+receipt_lines_receipt_id_foreign</text>
<rect class="lb" x="524" y="695.5" width="116" height="13"/><text x="524" y="705.5">+events_receipt_id_foreign</text>
<rect class="lb" x="904" y="954.5" width="84" height="13"/><text x="904" y="964.5">+receipt_lines_pkey</text>
<rect class="lb" x="475.7" y="988.5" width="181" height="13"/><text x="475.7" y="998.5">+distribution_lines_receipt_line_id_foreign</text>
<rect class="lb" x="473" y="1006.5" width="84" height="13"/><text x="473" y="1016.5">+receipt_lines_pkey</text>
<rect class="lb" x="576" y="1006.5" width="84" height="13"/><text x="576" y="1016.5">+receipt_lines_pkey</text>
<rect class="lb" x="691" y="1006.5" width="84" height="13"/><text x="691" y="1016.5">+receipt_lines_pkey</text>
<rect class="lb" x="364" y="1226.5" width="181" height="13"/><text x="364" y="1236.5">+distribution_lines_receipt_line_id_foreign</text>
<rect class="lb" x="686.6" y="1224.3" width="194" height="13"/><text x="686.6" y="1234.3">+receipt_line_buckets_receipt_line_id_foreign</text>
<rect class="lb" x="975" y="1224.3" width="194" height="13"/><text x="975" y="1234.3">+receipt_line_buckets_receipt_line_id_foreign</text>
<rect class="lb" x="1506" y="1261.5" width="116" height="13"/><text x="1506" y="1271.5">+events_receipt_id_foreign</text>
<text x="1736" y="1248.5">+receipt_buckets_receipt_id_foreign</text>
<rect class="lb" x="1734" y="1248.5" width="157" height="13"/><text x="1734" y="1258.5">+receipt_buckets_receipt_id_foreign</text>
<rect class="lb" x="2129" y="1288.5" width="141" height="13"/><text x="2129" y="1298.5">+receipt_lines_receipt_id_foreign</text>
</g>
</g>
</g>
</svg>
